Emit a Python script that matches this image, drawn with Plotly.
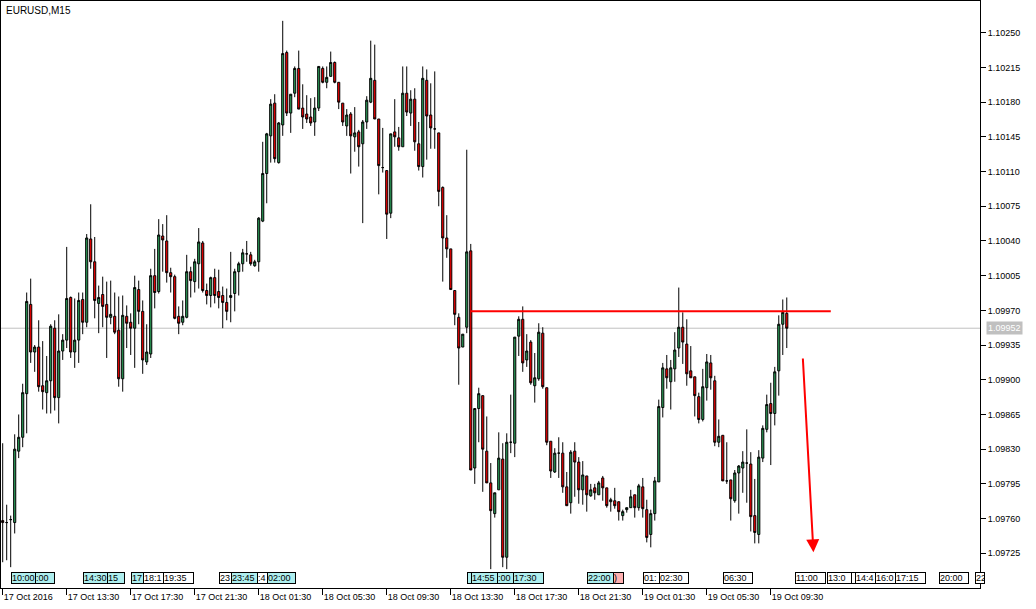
import pandas as pd
import plotly.graph_objects as go

symbol_title = "EURUSD,M15"
start_time = "2016-10-17 09:30"

opens = [1.09758,1.09756,1.09759,1.09756,1.09828,1.09842,1.09886,1.09976,1.09928,1.09933,
 1.09894,1.09887,1.09899,1.09952,1.09882,1.09929,1.09940,1.09983,1.09928,1.09940,
 1.09981,1.09958,1.10042,1.10019,1.09977,1.09986,1.09976,1.09963,1.09964,1.09950,
 1.09901,1.09964,1.09958,1.09952,1.09991,1.09969,1.09918,1.09926,1.10005,1.09989,
 1.10045,1.10040,1.10008,1.10004,1.09964,1.09958,1.09963,1.10009,1.09999,1.10017,
 1.10038,1.09990,1.09985,1.10003,1.09989,1.09985,1.09978,1.09983,1.09987,1.10009,
 1.10017,1.10027,1.10026,1.10015,1.10019,1.10060,1.10108,1.10146,1.10179,1.10119,
 1.10157,1.10230,1.10169,1.10189,1.10214,1.10174,1.10168,1.10165,1.10160,1.10174,
 1.10214,1.10200,1.10206,1.10220,1.10200,1.10179,1.10156,1.10168,1.10145,1.10150,
 1.10138,1.10160,1.10180,1.10202,1.10163,1.10114,1.10111,1.10068,1.10150,1.10144,
 1.10135,1.10189,1.10169,1.10183,1.10138,1.10115,1.10202,1.10167,1.10153,1.10149,
 1.10094,1.10043,1.10032,1.09990,1.09963,1.09933,1.09953,1.10030,1.09811,1.09871,
 1.09884,1.09828,1.09796,1.09765,1.09789,1.09820,1.09721,1.09837,1.09836,1.09944,
 1.09961,1.09920,1.09938,1.09894,1.09901,1.09947,1.09892,1.09838,1.09807,1.09826,
 1.09826,1.09792,1.09776,1.09828,1.09817,1.09789,1.09803,1.09783,1.09791,1.09784,
 1.09801,1.09791,1.09777,1.09778,1.09777,1.09763,1.09769,1.09771,1.09784,1.09771,
 1.09792,1.09769,1.09744,1.09765,1.09797,1.09872,1.09911,1.09898,1.09911,1.09932,
 1.09953,1.09936,1.09909,1.09903,1.09883,1.09860,1.09892,1.09917,1.09899,1.09837,
 1.09844,1.09798,1.09799,1.09778,1.09806,1.09811,1.09816,1.09815,1.09763,1.09744,
 1.09821,1.09850,1.09876,1.09866,1.09909,1.09956,1.09967]

highs = [1.09836,1.09774,1.09763,1.09845,1.09865,1.09896,1.09988,1.10002,1.09935,1.09960,
 1.09939,1.09924,1.09956,1.09960,1.09966,1.09946,1.10034,1.09984,1.09982,1.09988,
 1.09988,1.10047,1.10077,1.10044,1.09995,1.10004,1.09999,1.10000,1.09988,1.09984,
 1.09985,1.09975,1.09967,1.10005,1.10000,1.09980,1.09956,1.10012,1.10032,1.10062,
 1.10057,1.10066,1.10013,1.10006,1.09974,1.09980,1.10026,1.10014,1.10022,1.10053,
 1.10040,1.09997,1.10004,1.10012,1.10011,1.09994,1.09992,1.10029,1.10012,1.10019,
 1.10032,1.10040,1.10029,1.10021,1.10064,1.10140,1.10149,1.10183,1.10188,1.10160,
 1.10262,1.10232,1.10188,1.10216,1.10232,1.10198,1.10187,1.10184,1.10185,1.10216,
 1.10216,1.10216,1.10231,1.10221,1.10200,1.10179,1.10173,1.10170,1.10175,1.10152,
 1.10162,1.10186,1.10242,1.10238,1.10163,1.10154,1.10111,1.10148,1.10183,1.10155,
 1.10216,1.10216,1.10192,1.10194,1.10160,1.10216,1.10213,1.10199,1.10211,1.10149,
 1.10095,1.10066,1.10032,1.09990,1.09967,1.09946,1.10132,1.10037,1.09871,1.09892,
 1.09884,1.09863,1.09816,1.09786,1.09847,1.09836,1.09846,1.09885,1.09943,1.09964,
 1.09974,1.09946,1.09940,1.09927,1.09957,1.09953,1.09892,1.09838,1.09831,1.09842,
 1.09837,1.09807,1.09829,1.09837,1.09822,1.09818,1.09803,1.09795,1.09795,1.09798,
 1.09803,1.09791,1.09781,1.09791,1.09777,1.09769,1.09771,1.09789,1.09784,1.09795,
 1.09801,1.09779,1.09769,1.09802,1.09880,1.09917,1.09925,1.09920,1.09948,1.09993,
 1.09968,1.09961,1.09934,1.09903,1.09887,1.09911,1.09926,1.09925,1.09904,1.09860,
 1.09844,1.09837,1.09799,1.09809,1.09814,1.09828,1.09850,1.09827,1.09800,1.09829,
 1.09854,1.09885,1.09897,1.09913,1.09965,1.09981,1.09983]

lows = [1.09716,1.09718,1.09711,1.09745,1.09821,1.09832,1.09846,1.09917,1.09908,1.09888,
 1.09870,1.09866,1.09866,1.09869,1.09856,1.09920,1.09932,1.09922,1.09912,1.09917,
 1.09946,1.09953,1.10012,1.09962,1.09947,1.09953,1.09922,1.09956,1.09946,1.09893,
 1.09888,1.09932,1.09925,1.09912,1.09956,1.09906,1.09915,1.09922,1.09972,1.09987,
 1.10009,1.09998,1.09988,1.09961,1.09946,1.09955,1.09962,1.09983,1.09988,1.09992,
 1.09988,1.09976,1.09973,1.09977,1.09972,1.09952,1.09960,1.09958,1.09969,1.09985,
 1.10009,1.10019,1.10015,1.10014,1.10009,1.10059,1.10078,1.10119,1.10119,1.10118,
 1.10146,1.10166,1.10149,1.10185,1.10173,1.10153,1.10159,1.10156,1.10146,1.10171,
 1.10199,1.10194,1.10206,1.10199,1.10173,1.10156,1.10146,1.10108,1.10130,1.10115,
 1.10058,1.10153,1.10179,1.10163,1.10087,1.10109,1.10042,1.10063,1.10135,1.10131,
 1.10135,1.10166,1.10156,1.10131,1.10111,1.10104,1.10122,1.10133,1.10133,1.10075,
 1.09999,1.10023,1.09991,1.09955,1.09895,1.09933,1.09947,1.09809,1.09795,1.09837,
 1.09787,1.09796,1.09709,1.09761,1.09789,1.09711,1.09709,1.09826,1.09822,1.09924,
 1.09908,1.09913,1.09895,1.09877,1.09899,1.09891,1.09834,1.09801,1.09806,1.09801,
 1.09786,1.09773,1.09765,1.09782,1.09775,1.09774,1.09767,1.09782,1.09779,1.09784,
 1.09778,1.09771,1.09767,1.09770,1.09758,1.09758,1.09766,1.09771,1.09761,1.09768,
 1.09761,1.09736,1.09731,1.09758,1.09797,1.09862,1.09891,1.09870,1.09898,1.09923,
 1.09916,1.09894,1.09902,1.09863,1.09856,1.09858,1.09879,1.09890,1.09833,1.09832,
 1.09798,1.09795,1.09758,1.09776,1.09765,1.09786,1.09776,1.09747,1.09735,1.09735,
 1.09817,1.09847,1.09814,1.09854,1.09884,1.09925,1.09932]

closes = [1.09756,1.09756,1.09759,1.09830,1.09842,1.09887,1.09979,1.09928,1.09933,1.09893,
 1.09888,1.09899,1.09954,1.09882,1.09929,1.09940,1.09982,1.09928,1.09940,1.09980,
 1.09958,1.10043,1.10019,1.09980,1.09983,1.09974,1.09963,1.09966,1.09948,1.09901,
 1.09965,1.09957,1.09952,1.09993,1.09969,1.09920,1.09928,1.10005,1.09988,1.10046,
 1.10041,1.10008,1.10004,1.09962,1.09957,1.09964,1.10009,1.10000,1.10019,1.10039,
 1.09990,1.09985,1.10003,1.09985,1.09983,1.09978,1.09969,1.09985,1.10009,1.10017,
 1.10028,1.10027,1.10017,1.10019,1.10063,1.10108,1.10148,1.10178,1.10123,1.10159,
 1.10229,1.10169,1.10188,1.10214,1.10173,1.10165,1.10163,1.10159,1.10174,1.10216,
 1.10200,1.10205,1.10220,1.10200,1.10180,1.10160,1.10167,1.10146,1.10149,1.10135,
 1.10160,1.10182,1.10204,1.10163,1.10116,1.10114,1.10067,1.10148,1.10145,1.10135,
 1.10189,1.10170,1.10183,1.10140,1.10115,1.10204,1.10166,1.10154,1.10153,1.10090,
 1.10043,1.10032,1.09991,1.09966,1.09932,1.09946,1.10029,1.09809,1.09871,1.09886,
 1.09830,1.09796,1.09768,1.09786,1.09821,1.09721,1.09837,1.09837,1.09943,1.09961,
 1.09917,1.09929,1.09897,1.09902,1.09948,1.09893,1.09837,1.09808,1.09826,1.09826,
 1.09792,1.09773,1.09827,1.09817,1.09789,1.09804,1.09784,1.09789,1.09786,1.09796,
 1.09791,1.09773,1.09779,1.09773,1.09767,1.09767,1.09771,1.09782,1.09771,1.09793,
 1.09770,1.09741,1.09765,1.09798,1.09873,1.09912,1.09902,1.09912,1.09930,1.09953,
 1.09938,1.09906,1.09902,1.09884,1.09860,1.09893,1.09918,1.09902,1.09837,1.09843,
 1.09798,1.09798,1.09780,1.09806,1.09813,1.09817,1.09816,1.09762,1.09746,1.09822,
 1.09851,1.09875,1.09866,1.09908,1.09956,1.09968,1.09952]

bid_price = 1.09952
price_ticks = [1.09725, 1.09760, 1.09795, 1.09830, 1.09865, 1.09900, 1.09935, 1.09970,
               1.10005, 1.10040, 1.10075, 1.10110, 1.10145, 1.10180, 1.10215, 1.10250]

# resistance line (drawn object) and forecast arrow
resistance_level = 1.09969
resistance_from = "2016-10-18 14:45"
resistance_to = "2016-10-19 13:15"
arrow_from_time, arrow_from_price = "2016-10-19 11:30", 1.09923
arrow_to_time, arrow_to_price = "2016-10-19 12:10", 1.09726

# calendar event markers: time, visible text, kind
event_times = ["2016-10-17 10:00", "2016-10-17 11:30", "2016-10-17 14:30", "2016-10-17 16:00",
               "2016-10-17 17:30", "2016-10-17 18:15", "2016-10-17 19:30", "2016-10-17 23:00",
               "2016-10-17 23:45", "2016-10-18 01:25", "2016-10-18 02:00", "2016-10-18 14:30",
               "2016-10-18 14:45", "2016-10-18 16:25", "2016-10-18 17:25", "2016-10-18 22:00",
               "2016-10-18 23:40", "2016-10-19 01:30", "2016-10-19 02:30", "2016-10-19 06:30",
               "2016-10-19 11:00", "2016-10-19 13:00", "2016-10-19 14:30", "2016-10-19 14:45",
               "2016-10-19 16:00", "2016-10-19 17:15", "2016-10-19 20:00", "2016-10-19 22:15"]
event_texts = ["10:00", ":00", "14:30", "15", "17", "18:1", "19:35", "23", "23:45", ":4", "02:00",
               "", "14:55", ":00", "17:30", "22:00", ")", "01:", "02:30", "06:30", "11:00",
               "13:0", "", "14:4", "16:0", "17:15", "20:00", "22"]
event_kinds = ["hi", "hi", "hi", "hi", "hi", "lo", "lo", "lo", "hi", "lo", "hi", "hi", "hi", "hi",
               "hi", "hi", "mid", "lo", "lo", "lo", "lo", "lo", "lo", "lo", "lo", "lo", "lo", "lo"]
event_widths = [25, 18, 24, 16, 12, 20, 29, 12, 27, 10, 27, 3, 27, 16, 29, 26, 9, 15, 28, 28,
                29, 23, 4, 19, 20, 29, 28, 8]

times = pd.date_range(start_time, periods=len(opens), freq="15min")
t0 = times[0]
step = pd.Timedelta("15min")
def to_idx(t):
    return (pd.Timestamp(t) - t0) / step

idx = list(range(len(opens)))
tick_idx = list(range(0, len(opens), 16))
tick_text = ["17 Oct 2016" if i == 0 else times[i].strftime("%d %b %H:%M") for i in tick_idx]

FONT = "Tahoma, 'Liberation Sans', Arial, sans-serif"

fig = go.Figure()
fig.add_trace(go.Candlestick(
    x=idx, open=opens, high=highs, low=lows, close=closes,
    increasing=dict(line=dict(color="black", width=1), fillcolor="#2ca05a"),
    decreasing=dict(line=dict(color="black", width=1), fillcolor="#ff0000"),
    whiskerwidth=0, hoverinfo="skip", showlegend=False,
))

shapes = [
    dict(type="line", xref="paper", x0=0, x1=1, yref="y", y0=bid_price, y1=bid_price,
         line=dict(color="#c0c0c0", width=1), layer="below"),
    dict(type="line", xref="x", x0=to_idx(resistance_from), x1=to_idx(resistance_to),
         yref="y", y0=resistance_level, y1=resistance_level,
         line=dict(color="#ff0000", width=2)),
]

annotations = [
    dict(text=symbol_title, xref="paper", yref="paper", x=0, y=1, xanchor="left", yanchor="top",
         xshift=3, yshift=-2, showarrow=False, font=dict(family=FONT, size=10, color="black")),
    dict(text=f"{bid_price:.5f}", xref="paper", yref="y", x=1, y=bid_price, xanchor="left",
         yanchor="middle", xshift=6, showarrow=False, bgcolor="#c0c0c0", borderpad=1,
         font=dict(family=FONT, size=9, color="white")),
    dict(x=to_idx(arrow_to_time), y=arrow_to_price, ax=to_idx(arrow_from_time), ay=arrow_from_price,
         xref="x", yref="y", axref="x", ayref="y", showarrow=True, arrowhead=2, arrowsize=1.3,
         arrowwidth=2, arrowcolor="#ff0000", text=""),
]

fills = {"hi": "#aeeeee", "lo": "#ffffff", "mid": "#ffb0b0"}
for t, txt, k, w in zip(event_times, event_texts, event_kinds, event_widths):
    annotations.append(dict(
        text=txt, xref="x", yref="paper", x=to_idx(t), y=0, yshift=10, xanchor="left",
        yanchor="middle", showarrow=False, width=w, height=10, align="left",
        bgcolor=fills[k], bordercolor="black", borderwidth=1, borderpad=0,
        font=dict(family=FONT, size=9, color="black")))

fig.update_layout(
    width=1036, height=609,
    margin=dict(l=1, r=56, t=1, b=21, autoexpand=False),
    paper_bgcolor="white", plot_bgcolor="white",
    showlegend=False, hovermode=False, boxgap=0.25,
    shapes=shapes, annotations=annotations,
    font=dict(family=FONT, size=9, color="black"),
    xaxis=dict(range=[-0.425, 244.3], showgrid=False, zeroline=False, showline=True,
               linecolor="black", linewidth=1, mirror=True, ticks="outside", ticklen=6,
               tickcolor="black", tickvals=tick_idx, ticktext=tick_text,
               ticklabelposition="outside right",
               tickfont=dict(family=FONT, size=9, color="black"),
               rangeslider=dict(visible=False), fixedrange=True),
    yaxis=dict(side="right", range=[1.09690, 1.10282], showgrid=False, zeroline=False,
               showline=True, linecolor="black", linewidth=1, mirror=True, ticks="outside",
               ticklen=5, tickcolor="black", tickvals=price_ticks, tickformat=".5f",
               tickfont=dict(family=FONT, size=9, color="black"), fixedrange=True),
)

fig.write_html("out.html", config={"displayModeBar": False},
               post_script="document.body.style.margin='0px';document.body.style.overflow='hidden';")
